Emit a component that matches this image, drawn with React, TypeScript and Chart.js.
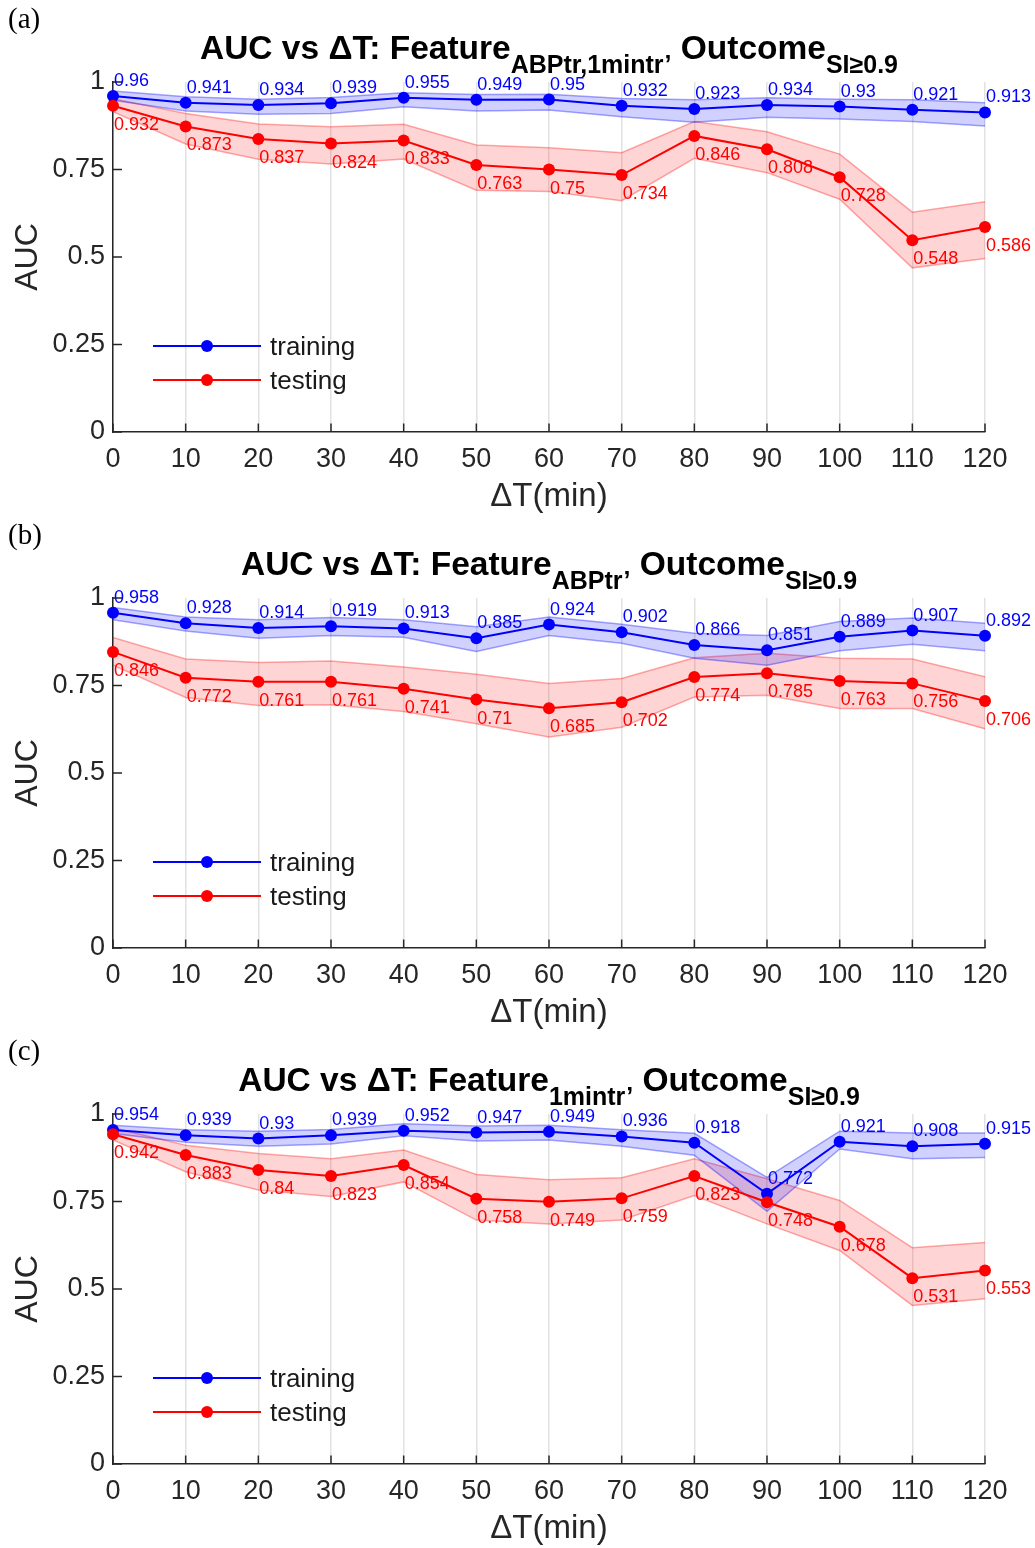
import React, { useEffect, useRef } from "react";
import { Chart, registerables } from "chart.js";

Chart.register(...registerables);

// ---------- data ----------
const X_VALUES = [0, 10, 20, 30, 40, 50, 60, 70, 80, 90, 100, 110, 120];
const Y_TICKS = [0, 0.25, 0.5, 0.75, 1];
const Y_TICK_LABELS = ["0", "0.25", "0.5", "0.75", "1"];

// panel (a)
const trainA = [0.96, 0.941, 0.934, 0.939, 0.955, 0.949, 0.95, 0.932, 0.923, 0.934, 0.93, 0.921, 0.913];
const trainAUpper = [0.974, 0.958, 0.951, 0.956, 0.969, 0.964, 0.965, 0.953, 0.949, 0.955, 0.951, 0.949, 0.941];
const trainALower = [0.948, 0.917, 0.908, 0.91, 0.929, 0.917, 0.92, 0.901, 0.885, 0.899, 0.894, 0.887, 0.874];
const testA = [0.932, 0.873, 0.837, 0.824, 0.833, 0.763, 0.75, 0.734, 0.846, 0.808, 0.728, 0.548, 0.586];
const testAUpper = [0.952, 0.91, 0.88, 0.872, 0.879, 0.82, 0.812, 0.798, 0.887, 0.858, 0.794, 0.628, 0.658];
const testALower = [0.915, 0.823, 0.779, 0.766, 0.78, 0.691, 0.687, 0.661, 0.782, 0.741, 0.665, 0.469, 0.496];

// panel (b)
const trainB = [0.958, 0.928, 0.914, 0.919, 0.913, 0.885, 0.924, 0.902, 0.866, 0.851, 0.889, 0.907, 0.892];
const trainBUpper = [0.973, 0.946, 0.938, 0.944, 0.938, 0.918, 0.946, 0.925, 0.899, 0.893, 0.933, 0.943, 0.928];
const trainBLower = [0.938, 0.906, 0.885, 0.893, 0.888, 0.847, 0.893, 0.871, 0.828, 0.808, 0.849, 0.868, 0.849];
const testB = [0.846, 0.772, 0.761, 0.761, 0.741, 0.71, 0.685, 0.702, 0.774, 0.785, 0.763, 0.756, 0.706];
const testBUpper = [0.887, 0.826, 0.816, 0.82, 0.803, 0.782, 0.756, 0.77, 0.829, 0.842, 0.828, 0.826, 0.775];
const testBLower = [0.808, 0.716, 0.693, 0.695, 0.676, 0.641, 0.603, 0.631, 0.717, 0.722, 0.684, 0.684, 0.626];

// panel (c)
const trainC = [0.954, 0.939, 0.93, 0.939, 0.952, 0.947, 0.949, 0.936, 0.918, 0.772, 0.921, 0.908, 0.915];
const trainCUpper = [0.968, 0.955, 0.951, 0.956, 0.972, 0.966, 0.968, 0.955, 0.945, 0.819, 0.951, 0.946, 0.946];
const trainCLower = [0.944, 0.919, 0.908, 0.914, 0.938, 0.923, 0.926, 0.908, 0.882, 0.722, 0.9, 0.872, 0.876];
const testC = [0.942, 0.883, 0.84, 0.823, 0.854, 0.758, 0.749, 0.759, 0.823, 0.748, 0.678, 0.531, 0.553];
const testCUpper = [0.961, 0.911, 0.887, 0.872, 0.897, 0.827, 0.812, 0.818, 0.872, 0.815, 0.753, 0.618, 0.633];
const testCLower = [0.926, 0.835, 0.783, 0.764, 0.806, 0.697, 0.686, 0.697, 0.767, 0.686, 0.61, 0.453, 0.472];

const LEGEND_LABELS = ["training", "testing"];
const X_TITLE = "ΔT(min)";
const Y_TITLE = "AUC";
const TITLE_MAIN = "AUC vs ΔT: Feature";
const TITLE_OUTCOME = " Outcome";
const TITLE_OUTCOME_SUB = "SI≥0.9";

const PANELS = [
  { letter: "(a)", featureSub: "ABPtr,1mintr’", train: trainA, trainUp: trainAUpper, trainLo: trainALower, test: testA, testUp: testAUpper, testLo: testALower },
  { letter: "(b)", featureSub: "ABPtr’", train: trainB, trainUp: trainBUpper, trainLo: trainBLower, test: testB, testUp: testBUpper, testLo: testBLower },
  { letter: "(c)", featureSub: "1mintr’", train: trainC, trainUp: trainCUpper, trainLo: trainCLower, test: testC, testUp: testCUpper, testLo: testCLower },
];

// ---------- styles ----------
const SANS = 'Arial, "Liberation Sans", Helvetica, sans-serif';
const SERIF = '"Times New Roman", "Liberation Serif", serif';
const AXIS = "#262626";
const BLUE = "#0000ff";
const RED = "#ff0000";
const W = 1035;
const H = 516;

const pts = (ys: number[]) => X_VALUES.map((x, i) => ({ x, y: ys[i] }));

const decoPlugin = {
  id: "deco",
  afterDraw(chart: any, _args: any, opts: any) {
    const ctx = chart.ctx as CanvasRenderingContext2D;
    const ca = chart.chartArea;
    const xs = chart.scales.x;
    const ys = chart.scales.y;
    ctx.save();

    // inward tick marks
    ctx.strokeStyle = AXIS;
    ctx.lineWidth = 1.5;
    ctx.beginPath();
    X_VALUES.forEach((v) => {
      const px = xs.getPixelForValue(v);
      ctx.moveTo(px, ca.bottom);
      ctx.lineTo(px, ca.bottom - 8.5);
    });
    Y_TICKS.forEach((v) => {
      const py = ys.getPixelForValue(v);
      ctx.moveTo(ca.left, py);
      ctx.lineTo(ca.left + 9, py);
    });
    ctx.stroke();

    // data labels
    ctx.font = `18px ${SANS}`;
    ctx.textAlign = "left";
    ctx.textBaseline = "alphabetic";
    chart.data.datasets.forEach((ds: any, di: number) => {
      if (!ds.labelPos) return;
      const meta = chart.getDatasetMeta(di);
      ctx.fillStyle = ds.borderColor;
      meta.data.forEach((el: any, i: number) => {
        const val = ds.data[i].y;
        const txt = String(val);
        const y = ds.labelPos === "above" ? el.y - 10 : el.y + 24;
        ctx.fillText(txt, el.x + 1, y);
      });
    });

    // legend
    const legendItems = [
      { label: LEGEND_LABELS[0], color: BLUE, y: 346 },
      { label: LEGEND_LABELS[1], color: RED, y: 380 },
    ];
    legendItems.forEach((it) => {
      ctx.strokeStyle = it.color;
      ctx.lineWidth = 2;
      ctx.beginPath();
      ctx.moveTo(153, it.y);
      ctx.lineTo(261, it.y);
      ctx.stroke();
      ctx.fillStyle = it.color;
      ctx.beginPath();
      ctx.arc(207, it.y, 6, 0, Math.PI * 2);
      ctx.fill();
      ctx.fillStyle = "#1a1a1a";
      ctx.font = `26px ${SANS}`;
      ctx.textAlign = "left";
      ctx.textBaseline = "alphabetic";
      ctx.fillText(it.label, 270, it.y + 9);
    });

    // axis titles
    ctx.fillStyle = AXIS;
    ctx.font = `33px ${SANS}`;
    ctx.textAlign = "center";
    ctx.textBaseline = "alphabetic";
    ctx.fillText(X_TITLE, (ca.left + ca.right) / 2, 506);
    ctx.save();
    ctx.translate(28, (ca.top + ca.bottom) / 2);
    ctx.rotate(-Math.PI / 2);
    ctx.textBaseline = "middle";
    ctx.font = `32px ${SANS}`;
    ctx.fillText(Y_TITLE, 0, 0);
    ctx.restore();

    // title with subscripts
    const bigFont = `bold 33.5px ${SANS}`;
    const subFont = `bold 25px ${SANS}`;
    const parts = [
      { t: TITLE_MAIN, sub: false },
      { t: opts.featureSub, sub: true },
      { t: TITLE_OUTCOME, sub: false },
      { t: TITLE_OUTCOME_SUB, sub: true },
    ];
    let total = 0;
    const widths = parts.map((p) => {
      ctx.font = p.sub ? subFont : bigFont;
      const w = ctx.measureText(p.t).width;
      total += w;
      return w;
    });
    let tx = (ca.left + ca.right) / 2 - total / 2;
    ctx.fillStyle = "#000000";
    ctx.textAlign = "left";
    ctx.textBaseline = "alphabetic";
    parts.forEach((p, i) => {
      ctx.font = p.sub ? subFont : bigFont;
      ctx.fillText(p.t, tx, p.sub ? 73 : 59);
      tx += widths[i];
    });

    // panel letter
    ctx.font = `29px ${SERIF}`;
    ctx.fillStyle = "#000000";
    ctx.fillText(opts.letter, 8, 28);

    ctx.restore();
  },
};

function Panel({ panel }: { panel: any }) {
  const ref = useRef<HTMLCanvasElement | null>(null);
  useEffect(() => {
    if (!ref.current) return;
    const bandFill = (c: string) => (c === BLUE ? "rgba(0,0,255,0.18)" : "rgba(255,0,0,0.17)");
    const bandEdge = (c: string) => (c === BLUE ? "rgba(0,0,255,0.35)" : "rgba(255,0,0,0.33)");
    const chart = new Chart(ref.current, {
      type: "line",
      data: {
        datasets: [
          {
            label: LEGEND_LABELS[1], data: pts(panel.test), borderColor: RED, backgroundColor: RED,
            borderWidth: 2, pointRadius: 6, pointBorderWidth: 0, pointBackgroundColor: RED,
            fill: false, tension: 0, clip: false, labelPos: "below",
          } as any,
          {
            label: LEGEND_LABELS[0], data: pts(panel.train), borderColor: BLUE, backgroundColor: BLUE,
            borderWidth: 2, pointRadius: 6, pointBorderWidth: 0, pointBackgroundColor: BLUE,
            fill: false, tension: 0, clip: false, labelPos: "above",
          } as any,
          {
            label: "trainUp", data: pts(panel.trainUp), borderColor: bandEdge(BLUE), backgroundColor: bandFill(BLUE),
            borderWidth: 1.5, pointRadius: 0, fill: "+1", tension: 0,
          },
          {
            label: "trainLo", data: pts(panel.trainLo), borderColor: bandEdge(BLUE),
            borderWidth: 1.5, pointRadius: 0, fill: false, tension: 0,
          },
          {
            label: "testUp", data: pts(panel.testUp), borderColor: bandEdge(RED), backgroundColor: bandFill(RED),
            borderWidth: 1.5, pointRadius: 0, fill: "+1", tension: 0,
          },
          {
            label: "testLo", data: pts(panel.testLo), borderColor: bandEdge(RED),
            borderWidth: 1.5, pointRadius: 0, fill: false, tension: 0,
          },
        ],
      },
      options: {
        animation: false,
        responsive: false,
        devicePixelRatio: 1,
        layout: { padding: { top: 82, right: 50, left: 0, bottom: 0 } },
        plugins: {
          legend: { display: false },
          tooltip: { enabled: false },
          title: { display: false },
          deco: { letter: panel.letter, featureSub: panel.featureSub },
        } as any,
        scales: {
          x: {
            type: "linear",
            min: 0,
            max: 120,
            afterFit: (s: any) => { s.height = 84; },
            afterBuildTicks: (s: any) => { s.ticks = X_VALUES.map((v) => ({ value: v })); },
            grid: { display: true, color: "#e2e2e2", lineWidth: 1.5, drawTicks: false },
            border: { display: true, color: AXIS, width: 1.5 },
            ticks: {
              font: { family: SANS, size: 27 }, color: AXIS, padding: 11,
              maxRotation: 0, autoSkip: false,
              callback: (v: any) => String(v),
            },
          },
          y: {
            type: "linear",
            min: 0,
            max: 1,
            afterFit: (s: any) => { s.width = 113; },
            afterBuildTicks: (s: any) => { s.ticks = Y_TICKS.map((v) => ({ value: v })); },
            grid: { display: false, drawTicks: false },
            border: { display: true, color: AXIS, width: 1.5 },
            ticks: {
              font: { family: SANS, size: 27 }, color: AXIS, padding: 8,
              callback: (v: any) => {
                const i = Y_TICKS.indexOf(Number(v));
                return i >= 0 ? Y_TICK_LABELS[i] : "";
              },
            },
          },
        },
      },
      plugins: [decoPlugin],
    });
    return () => chart.destroy();
  }, [panel]);
  return <canvas ref={ref} width={W} height={H} style={{ display: "block", width: W, height: H }} />;
}

export default function App() {
  useEffect(() => {
    document.body.style.margin = "0";
    document.body.style.background = "#ffffff";
  }, []);
  return (
    <div style={{ width: W, background: "#fff" }}>
      {PANELS.map((p) => (
        <Panel key={p.letter} panel={p} />
      ))}
    </div>
  );
}
